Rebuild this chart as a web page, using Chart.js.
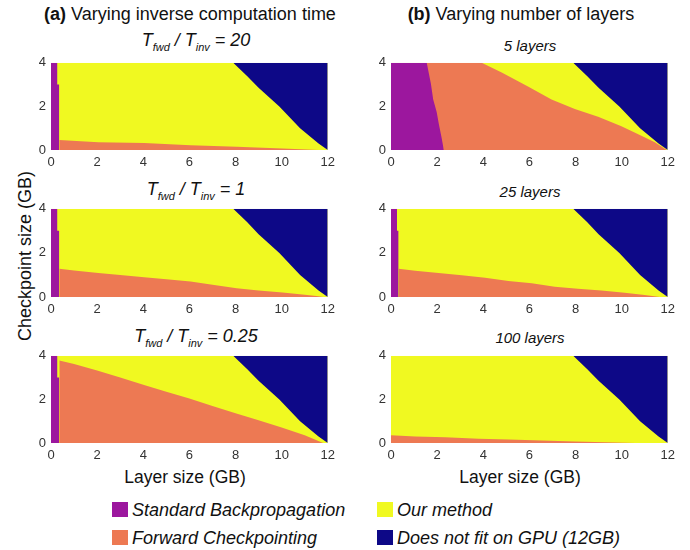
<!DOCTYPE html>
<html><head><meta charset="utf-8">
<script src="https://cdn.jsdelivr.net/npm/chart.js@4.4.0/dist/chart.umd.min.js"></script>
<style>
body{margin:0;width:690px;height:550px;background:#fff;position:relative;overflow:hidden;font-family:"Liberation Sans",Arial,sans-serif;color:#111}
.t{position:absolute;white-space:nowrap;line-height:1}
.c{text-align:center;width:400px}
.sub{position:relative;top:5px;font-size:11px}
canvas{position:absolute}
.sw{position:absolute;width:16px;height:15px}
</style></head><body>

<div class="t c" style="left:-10px;top:5px;font-size:18px"><b>(a)</b> Varying inverse computation time</div>
<div class="t c" style="left:321px;top:5px;font-size:18px"><b>(b)</b> Varying number of layers</div>

<div class="t c" style="left:-4px;top:31px;font-size:18px;font-style:italic">T<span class="sub">fwd</span> / T<span class="sub">inv</span> = 20</div>
<div class="t c" style="left:-4px;top:180px;font-size:18px;font-style:italic">T<span class="sub">fwd</span> / T<span class="sub">inv</span> = 1</div>
<div class="t c" style="left:-4px;top:327px;font-size:18px;font-style:italic">T<span class="sub">fwd</span> / T<span class="sub">inv</span> = 0.25</div>

<div class="t c" style="left:330px;top:38px;font-size:15px;font-style:italic">5 layers</div>
<div class="t c" style="left:330px;top:184px;font-size:15px;font-style:italic">25 layers</div>
<div class="t c" style="left:330px;top:330px;font-size:15px;font-style:italic">100 layers</div>

<div class="t c" style="left:-175px;top:247px;height:18px;font-size:18px;transform:rotate(-90deg)">Checkpoint size (GB)</div>
<div class="t c" style="left:-15px;top:469px;font-size:17.5px">Layer size (GB)</div>
<div class="t c" style="left:320px;top:469px;font-size:17.5px">Layer size (GB)</div>

<canvas id="a1" width="320" height="122" style="left:20px;top:50px"></canvas>
<canvas id="a2" width="320" height="123" style="left:20px;top:196px"></canvas>
<canvas id="a3" width="320" height="122" style="left:20px;top:343px"></canvas>
<canvas id="b1" width="320" height="122" style="left:360px;top:50px"></canvas>
<canvas id="b2" width="320" height="123" style="left:360px;top:196px"></canvas>
<canvas id="b3" width="320" height="122" style="left:360px;top:343px"></canvas>

<div id="legend"></div>

<script>
// ---- tick labels ----
const xTickValues = [0, 2, 4, 6, 8, 10, 12];
const yTickValues = [0, 2, 4];

// ---- legend categories ----
const categories = ['Standard Backpropagation', 'Forward Checkpointing', 'Our method', 'Does not fit on GPU (12GB)'];
const categoryColors = ['#9c179e', '#ed7953', '#f0f921', '#0d0887'];

// ---- region boundaries [layer size GB, checkpoint size GB] ----
// whole plane (our method is the remainder)
const fullPlane = [[0, 4], [12, 4]];
// GPU memory limit boundary (region above/right does not fit)
const gpuLimit = [[7.9, 4], [8.5, 3.4], [9.0, 2.85], [9.9, 2.0], [10.8, 1.0], [11.6, 0.3], [12, 0]];

// (a) varying inverse computation time
const a20Backprop = [[0, 4], [0.27, 4], [0.27, 3], [0.36, 3], [0.36, 0]];
const a20Checkpoint = [[0.36, 0.46], [2.05, 0.36], [4.04, 0.32], [6.05, 0.22], [8.05, 0.15], [10.04, 0.07], [11.6, 0]];

const a1Backprop = [[0, 4], [0.27, 4], [0.27, 3], [0.36, 3], [0.36, 0]];
const a1Checkpoint = [[0.36, 1.28], [1, 1.2], [2.05, 1.09], [3, 1.0], [4.04, 0.9], [5, 0.8], [6.05, 0.7], [7, 0.56], [8.05, 0.4], [9, 0.3], [10.04, 0.2], [11, 0.1], [11.5, 0.04], [11.8, 0]];

const a025Backprop = [[0, 4], [0.27, 4], [0.27, 3], [0.36, 3], [0.36, 0]];
const a025Checkpoint = [[0.36, 3.78], [1, 3.62], [2, 3.32], [3, 3.0], [4, 2.67], [5, 2.35], [6, 2.04], [7, 1.7], [8, 1.36], [9, 1.04], [10, 0.71], [11, 0.35], [11.8, 0]];

// (b) varying number of layers
const b5Backprop = [[0, 4], [1.55, 4], [1.62, 3.62], [1.73, 3.04], [1.83, 2.32], [1.98, 1.74], [2.08, 1.16], [2.19, 0.58], [2.29, 0]];
const b5Checkpoint = [[0, 4], [3.93, 4], [4.8, 3.55], [5.96, 2.9], [6.96, 2.32], [7.97, 1.88], [8.98, 1.52], [9.99, 1.09], [10.72, 0.72], [11.44, 0.36], [11.95, 0]];

const b25Backprop = [[0, 4], [0.26, 4], [0.26, 3], [0.33, 3], [0.33, 0]];
const b25Checkpoint = [[0.33, 1.28], [1.05, 1.19], [2.06, 1.09], [3.07, 0.99], [4.08, 0.87], [5.09, 0.73], [6.1, 0.62], [7.1, 0.47], [8.1, 0.37], [9.12, 0.3], [10.13, 0.19], [11.0, 0.09], [11.65, 0]];

const b100Backprop = [];
const b100Checkpoint = [[0, 0.35], [1.05, 0.3], [2.35, 0.26], [3.8, 0.19], [5.1, 0.16], [6.54, 0.12], [7.97, 0.07], [9.27, 0.04], [10.6, 0]];

const FONT = '"Liberation Sans", Arial, sans-serif';

function region(pts, color, fill) {
  return {
    data: pts.map(p => ({x: p[0], y: p[1]})),
    backgroundColor: color,
    borderColor: 'rgba(0,0,0,0)',
    borderWidth: 0,
    pointRadius: 0,
    pointHoverRadius: 0,
    tension: 0,
    fill: fill
  };
}

function makePanel(id, backprop, checkpoint) {
  const datasets = [
    region(backprop, categoryColors[0], 'origin'),
    region(gpuLimit, categoryColors[3], 'end'),
    region(checkpoint, categoryColors[1], 'origin'),
    region(fullPlane, categoryColors[2], 'origin')
  ];
  new Chart(document.getElementById(id), {
    type: 'line',
    data: {datasets},
    options: {
      responsive: false,
      animation: false,
      events: [],
      layout: {padding: {top: 8, right: 12, left: 0, bottom: 0}},
      plugins: {legend: {display: false}, tooltip: {enabled: false}},
      scales: {
        x: {
          type: 'linear', min: 0, max: 12,
          grid: {display: false, drawTicks: false},
          border: {display: false},
          afterBuildTicks: s => { s.ticks = xTickValues.map(v => ({value: v})); },
          afterFit: s => { s.height = 22; },
          ticks: {padding: 5, color: '#333', font: {family: FONT, size: 13}, maxRotation: 0, autoSkip: false}
        },
        y: {
          type: 'linear', min: 0, max: 4,
          grid: {display: false, drawTicks: false},
          border: {display: false},
          afterBuildTicks: s => { s.ticks = yTickValues.map(v => ({value: v})); },
          afterFit: s => { s.width = 31; },
          ticks: {padding: 5, color: '#333', font: {family: FONT, size: 13}}
        }
      }
    }
  });
}

makePanel('a1', a20Backprop, a20Checkpoint);
makePanel('a2', a1Backprop, a1Checkpoint);
makePanel('a3', a025Backprop, a025Checkpoint);
makePanel('b1', b5Backprop, b5Checkpoint);
makePanel('b2', b25Backprop, b25Checkpoint);
makePanel('b3', b100Backprop, b100Checkpoint);

// legend (HTML)
const legendPos = [[112, 502], [112, 530], [377, 502], [377, 530]];
const leg = document.getElementById('legend');
categories.forEach((name, i) => {
  const [lx, ly] = legendPos[i];
  const sw = document.createElement('div');
  sw.className = 'sw';
  sw.style.left = lx + 'px'; sw.style.top = ly + 'px';
  sw.style.background = categoryColors[i];
  leg.appendChild(sw);
  const tx = document.createElement('div');
  tx.className = 't';
  tx.style.left = (lx + 20) + 'px';
  tx.style.top = (ly - 1.5) + 'px';
  tx.style.fontSize = '18px';
  tx.style.fontStyle = 'italic';
  tx.textContent = name;
  leg.appendChild(tx);
});
</script>
</body></html>
